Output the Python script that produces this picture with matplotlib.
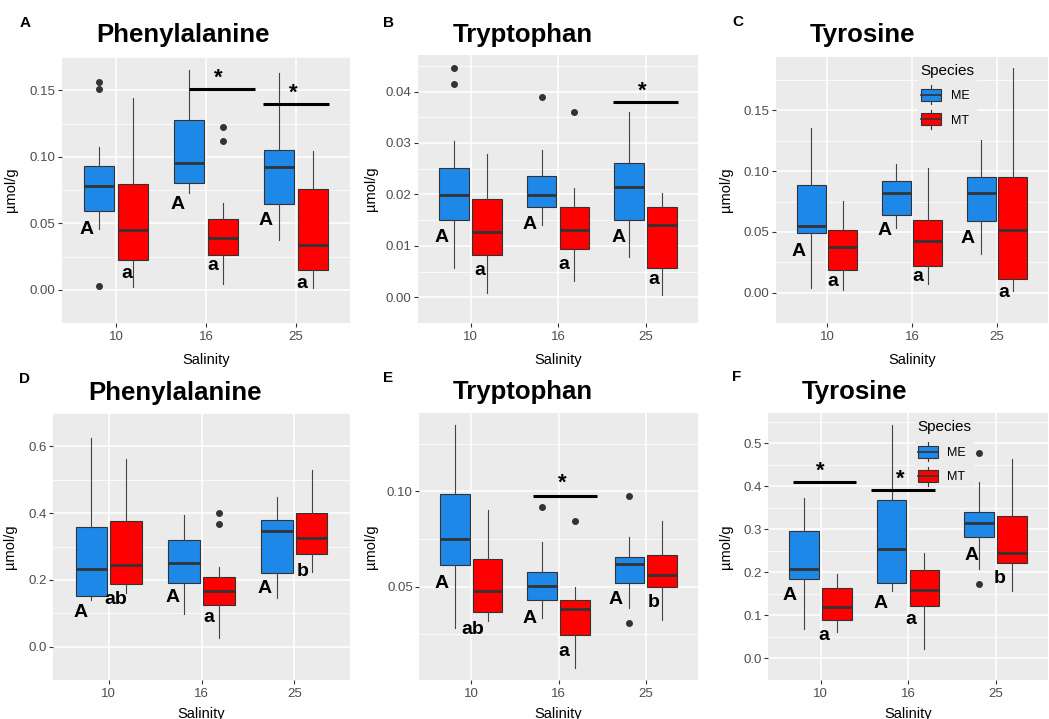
import matplotlib
matplotlib.use('Agg')
import matplotlib.pyplot as plt
from matplotlib.legend_handler import HandlerBase
from matplotlib.patches import Rectangle, Patch
from matplotlib.lines import Line2D

plt.rcParams['font.family'] = ['Liberation Sans', 'DejaVu Sans']

W, H = 1049, 719
salinity = ['10', '16', '25']
species = ['ME', 'MT']
fills = {'ME': '#1E88E8', 'MT': '#FF0000'}
dark = '#333333'

# box values: [low whisker, q1, median, q3, high whisker] for salinity 10, 16, 25
# top row
phe1_me = [[0.0457, 0.0593, 0.0783, 0.0933, 0.107], [0.0725, 0.0804, 0.0956, 0.1274, 0.165], [0.0372, 0.0642, 0.092, 0.105, 0.163]]
phe1_mt = [[0.0022, 0.0222, 0.0448, 0.0795, 0.144], [0.0045, 0.0262, 0.039, 0.0535, 0.0654], [0.0011, 0.0146, 0.0336, 0.0754, 0.1045]]
phe1_me_out = [[0.156, 0.151, 0.003], [], []]
phe1_mt_out = [[], [0.1227, 0.1122], []]

trp1_me = [[0.0056, 0.0150, 0.0198, 0.0252, 0.0303], [0.0141, 0.0175, 0.0198, 0.0236, 0.0286], [0.0079, 0.0150, 0.0215, 0.0262, 0.0361]]
trp1_mt = [[0.0009, 0.0083, 0.0127, 0.0191, 0.0279], [0.0031, 0.0094, 0.0131, 0.0175, 0.0213], [0.0005, 0.0056, 0.0140, 0.0175, 0.0202]]
trp1_me_out = [[0.0446, 0.0415], [0.039], []]
trp1_mt_out = [[], [0.036], []]

tyr1_me = [[0.0038, 0.0492, 0.055, 0.0887, 0.1354], [0.0534, 0.0638, 0.0817, 0.0923, 0.1059], [0.0315, 0.0592, 0.0817, 0.0955, 0.1253]]
tyr1_mt = [[0.0025, 0.0187, 0.0373, 0.0512, 0.0756], [0.0068, 0.0219, 0.0421, 0.0597, 0.1026], [0.0013, 0.0113, 0.0517, 0.0955, 0.1853]]
tyr1_me_out = [[], [], []]
tyr1_mt_out = [[], [], []]

# bottom row
phe2_me = [[0.1385, 0.1525, 0.233, 0.357, 0.625], [0.098, 0.190, 0.251, 0.320, 0.393], [0.146, 0.222, 0.345, 0.379, 0.449]]
phe2_mt = [[0.161, 0.187, 0.246, 0.377, 0.561], [0.0247, 0.1245, 0.167, 0.208, 0.239], [0.223, 0.279, 0.326, 0.401, 0.528]]
phe2_me_out = [[], [], []]
phe2_mt_out = [[], [0.400, 0.3685], []]

trp2_me = [[0.0284, 0.0611, 0.0751, 0.0988, 0.1347], [0.0333, 0.0428, 0.0505, 0.0579, 0.0732], [0.0386, 0.0519, 0.0616, 0.0656, 0.0763]]
trp2_mt = [[0.0319, 0.0367, 0.0479, 0.0647, 0.090], [0.007, 0.0246, 0.0381, 0.0432, 0.0496], [0.0325, 0.050, 0.0561, 0.0667, 0.0844]]
trp2_me_out = [[], [0.0918], [0.0977, 0.0307]]
trp2_mt_out = [[], [0.0847], []]

tyr2_me = [[0.0681, 0.1844, 0.208, 0.2963, 0.3716], [0.1557, 0.1743, 0.2547, 0.368, 0.543], [0.208, 0.282, 0.3135, 0.3407, 0.4103]]
tyr2_mt = [[0.061, 0.0882, 0.1184, 0.1628, 0.1973], [0.0215, 0.122, 0.160, 0.2044, 0.2453], [0.1564, 0.2224, 0.246, 0.330, 0.4627]]
tyr2_me_out = [[], [], [0.477, 0.1736]]
tyr2_mt_out = [[], [], []]

# letters of the post-hoc groups, order ME10 MT10 ME16 MT16 ME25 MT25
letters_top = ['A', 'a', 'A', 'a', 'A', 'a']
letters_phe2 = ['A', 'ab', 'A', 'a', 'A', 'b']
letters_trp2 = ['A', 'ab', 'A', 'a', 'A', 'b']
letters_tyr2 = ['A', 'a', 'A', 'a', 'A', 'b']


class BoxKey(HandlerBase):
    # legend key that looks like a small boxplot
    def create_artists(self, legend, orig_handle, xdescent, ydescent, width, height, fontsize, trans):
        x0, y0 = -xdescent, -ydescent
        cx = x0 + width / 2
        whisk = Line2D([cx, cx], [y0 - height * 0.3, y0 + height * 1.3], color=dark, lw=0.8, transform=trans)
        box = Rectangle((x0, y0), width, height, facecolor=orig_handle.get_facecolor(),
                        edgecolor=dark, lw=0.8, transform=trans)
        med = Line2D([x0, x0 + width], [y0 + height / 2] * 2, color=dark, lw=1.2, transform=trans)
        return [whisk, box, med]


def px_rect(l, t, r, b):
    return [l / W, 1 - b / H, (r - l) / W, (b - t) / H]


def draw_boxes(ax, me, mt, me_out, mt_out):
    for k, (sp, five, outs) in enumerate([('ME', me, me_out), ('MT', mt, mt_out)]):
        stats = [dict(whislo=f[0], q1=f[1], med=f[2], q3=f[3], whishi=f[4], fliers=o) for f, o in zip(five, outs)]
        pos = [i + 1 + (k - 0.5) * 0.375 for i in range(3)]
        ax.bxp(stats, positions=pos, widths=0.34, patch_artist=True, showcaps=False, manage_ticks=False,
               boxprops=dict(facecolor=fills[sp], edgecolor=dark, linewidth=0.8),
               medianprops=dict(color=dark, linewidth=2.0),
               whiskerprops=dict(color='#444444', linewidth=0.8),
               flierprops=dict(marker='o', markerfacecolor=dark, markeredgecolor=dark, markersize=4))


panels = [
    dict(tag='A', title='Phenylalanine', box=(62, 57, 350, 323), ylim=(-0.0063, 0.1728),
         major=[0, 0.05, 0.10, 0.15], fmt='{:.2f}', data=(phe1_me, phe1_mt, phe1_me_out, phe1_mt_out),
         letters=letters_top,
         lpos=[(0.67, 0.0452), (1.115, 0.0123), (1.684, 0.0642), (2.076, 0.0184), (2.66, 0.052), (3.07, 0.0045)],
         sig=[(1.806, 2.545, 0.151, 2.14, 0.163), (2.638, 3.37, 0.1397, 2.97, 0.152)],
         title_xy=(183, 35), tag_xy=(25, 23), ylab_x=18, xlab_y=353, legend=None),
    dict(tag='B', title='Tryptophan', box=(418, 55, 698, 323), ylim=(-0.0014, 0.0471),
         major=[0, 0.01, 0.02, 0.03, 0.04], fmt='{:.2f}', data=(trp1_me, trp1_mt, trp1_me_out, trp1_mt_out),
         letters=letters_top,
         lpos=[(0.665, 0.0117), (1.104, 0.0053), (1.677, 0.0141), (2.067, 0.0063), (2.69, 0.0117), (3.09, 0.0034)],
         sig=[(2.632, 3.376, 0.0379, 2.967, 0.0411)],
         title_xy=(523, 35), tag_xy=(389, 23), ylab_x=378, xlab_y=353, legend=None),
    dict(tag='C', title='Tyrosine', box=(776, 57, 1048, 323), ylim=(-0.0076, 0.194),
         major=[0, 0.05, 0.10, 0.15], fmt='{:.2f}', data=(tyr1_me, tyr1_mt, tyr1_me_out, tyr1_mt_out),
         letters=letters_top,
         lpos=[(0.667, 0.034), (1.067, 0.0088), (1.674, 0.0509), (2.074, 0.0134), (2.652, 0.0449), (3.085, 0.0005)],
         sig=[],
         title_xy=(863, 35), tag_xy=(738, 22), ylab_x=733, xlab_y=353, legend=(918, 61)),
    dict(tag='D', title='Phenylalanine', box=(53, 413, 350, 680), ylim=(-0.008, 0.655),
         major=[0, 0.2, 0.4, 0.6], fmt='{:.1f}', data=(phe2_me, phe2_mt, phe2_me_out, phe2_mt_out),
         letters=letters_phe2,
         lpos=[(0.693, 0.103), (1.08, 0.142), (1.687, 0.148), (2.083, 0.0866), (2.68, 0.173), (3.09, 0.224)],
         sig=[],
         title_xy=(175, 393), tag_xy=(25, 379), ylab_x=17, xlab_y=707, legend=None),
    dict(tag='E', title='Tryptophan', box=(419, 413, 698, 680), ylim=(0.0009, 0.1412),
         major=[0.05, 0.10], fmt='{:.2f}', data=(trp2_me, trp2_mt, trp2_me_out, trp2_mt_out),
         letters=letters_trp2,
         lpos=[(0.654, 0.0518), (1.02, 0.0272), (1.673, 0.033), (2.063, 0.0161), (2.66, 0.043), (3.09, 0.0418)],
         sig=[(1.71, 2.446, 0.0977, 2.045, 0.107)],
         title_xy=(523, 392), tag_xy=(388, 378), ylab_x=378, xlab_y=707, legend=None),
    dict(tag='F', title='Tyrosine', box=(768, 413, 1048, 680), ylim=(-0.005, 0.570),
         major=[0, 0.1, 0.2, 0.3, 0.4, 0.5], fmt='{:.1f}', data=(tyr2_me, tyr2_mt, tyr2_me_out, tyr2_mt_out),
         letters=letters_tyr2,
         lpos=[(0.647, 0.1456), (1.036, 0.0538), (1.687, 0.127), (2.033, 0.0897), (2.73, 0.239), (3.05, 0.185)],
         sig=[(0.684, 1.40, 0.410, 1.0, 0.448), (1.575, 2.309, 0.392, 1.909, 0.430)],
         title_xy=(855, 392), tag_xy=(737, 377), ylab_x=733, xlab_y=707, legend=(915, 418)),
]

fig = plt.figure(figsize=(W / 100, H / 100), dpi=100)
fig.patch.set_facecolor('white')

for p in panels:
    l, t, r, b = p['box']
    ax = fig.add_axes(px_rect(l, t, r, b))
    ax.set_facecolor('#EBEBEB')
    for s in ax.spines.values():
        s.set_visible(False)
    ax.set_xlim(0.4, 3.6)
    ax.set_ylim(*p['ylim'])
    step = p['major'][1] - p['major'][0]
    ax.set_yticks(p['major'], [p['fmt'].format(v) for v in p['major']])
    minors = [p['major'][0] - step / 2] + [v + step / 2 for v in p['major']]
    ax.set_yticks(minors, minor=True)
    ax.set_xticks([1, 2, 3], salinity)
    ax.set_axisbelow(True)
    ax.grid(which='major', color='white', lw=1.1)
    ax.grid(which='minor', axis='y', color='white', lw=0.55)
    ax.tick_params(which='minor', length=0)
    ax.tick_params(which='major', length=3, width=0.8, color=dark, labelcolor='#4D4D4D', labelsize=9.5, pad=1.5)
    ax.tick_params(axis='x', pad=3)

    draw_boxes(ax, *p['data'])

    for txt, (x, y) in zip(p['letters'], p['lpos']):
        ax.text(x, y, txt, fontsize=14, fontweight='bold', ha='center', va='center', color='black')
    for x0, x1, y, sx, sy in p['sig']:
        ax.plot([x0, x1], [y, y], color='black', lw=2.2, solid_capstyle='butt')
        ax.annotate('*', (sx, sy), xytext=(0, -4), textcoords='offset points',
                    fontsize=16, fontweight='bold', ha='center', va='center')

    ax.set_xlabel('Salinity', fontsize=10.5, color='black')
    ax.set_ylabel('µmol/g', fontsize=10.5, color='black')
    ax.xaxis.set_label_coords(0.5, (b - p['xlab_y']) / (b - t))
    ax.yaxis.set_label_coords((p['ylab_x'] - l) / (r - l), 0.5)

    fig.text(p['title_xy'][0] / W, 1 - p['title_xy'][1] / H, p['title'], fontsize=18.5, fontweight='bold',
             ha='center', va='center')
    fig.text(p['tag_xy'][0] / W, 1 - p['tag_xy'][1] / H, p['tag'], fontsize=11, fontweight='bold',
             ha='center', va='center')

    if p['legend']:
        handles = [Patch(facecolor=fills[sp], label=sp) for sp in species]
        leg = ax.legend(handles=handles, title='Species', loc='upper left',
                        bbox_to_anchor=(p['legend'][0] / W, 1 - p['legend'][1] / H), bbox_transform=fig.transFigure,
                        handler_map={Patch: BoxKey()}, fontsize=9, title_fontsize=11, alignment='left',
                        handlelength=1.6, handleheight=1.1, labelspacing=0.9, handletextpad=0.8,
                        borderpad=0.2, borderaxespad=0, frameon=True, fancybox=False)
        leg.get_frame().set_facecolor('#EBEBEB')
        leg.get_frame().set_edgecolor('none')
        leg.get_frame().set_alpha(1)

fig.savefig('out.png', dpi=100)
